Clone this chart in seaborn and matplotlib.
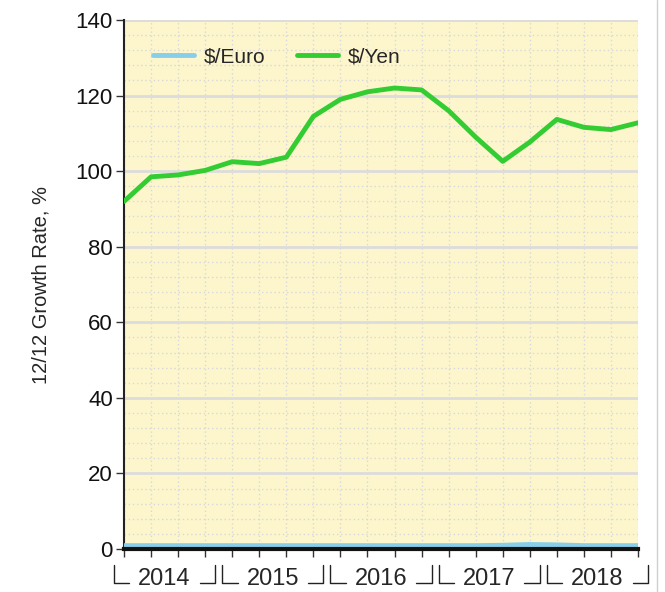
import numpy as np
import pandas as pd
import seaborn as sns
import matplotlib.pyplot as plt
from matplotlib.ticker import MultipleLocator
import matplotlib.transforms as mtransforms

quarters = list(range(20))
years = ["2014", "2015", "2016", "2017", "2018"]
yen = [92, 98.5, 99, 100.2, 102.5, 102, 103.7, 114.5, 119, 121, 122, 121.5,
       116, 109, 102.6, 107.7, 113.7, 111.6, 111, 112.8]
euro = [0.9, 0.9, 0.9, 0.9, 0.9, 0.9, 0.9, 0.9, 0.9, 0.9, 0.9, 0.9,
        0.9, 0.9, 1.0, 1.2, 1.1, 0.9, 0.9, 0.9]

df = pd.DataFrame({
    "q": quarters * 2,
    "val": euro + yen,
    "series": ["$/Euro"] * 20 + ["$/Yen"] * 20,
})

sns.set_style("white")
plt.rcParams['font.family'] = ['Liberation Sans', 'DejaVu Sans']

fig = plt.figure(figsize=(6.65, 5.92), dpi=100)
ax = fig.add_axes([0.1865, 0.0726, 0.9594 - 0.1865, 0.9662 - 0.0726])
ax.set_facecolor("#fdf6cc")

sns.lineplot(data=df, x="q", y="val", hue="series",
             palette={"$/Euro": "#87ceeb", "$/Yen": "#33cc33"},
             linewidth=3.5, ax=ax, zorder=3)

ax.set_xlim(0, 19)
ax.set_ylim(0, 140)
ax.yaxis.set_major_locator(MultipleLocator(20))
ax.yaxis.set_minor_locator(MultipleLocator(4))
ax.set_xticks(quarters)
ax.set_xticklabels([])
ax.tick_params(axis="y", which="major", direction="out", length=6, width=1,
               labelsize=16, color="#333333", labelcolor="#111111", pad=2, left=True)
ax.tick_params(axis="y", which="minor", length=0)
ax.tick_params(axis="x", direction="out", length=6, width=1, color="#333333", bottom=True)

ax.grid(which="major", axis="y", color="#dcdcdc", linewidth=2, linestyle="-")
ax.grid(which="minor", axis="y", color="#d8d8d8", linewidth=1, linestyle=(0, (1, 2)))
ax.grid(which="major", axis="x", color="#d8d8d8", linewidth=1, linestyle=(0, (1, 2)))
ax.set_axisbelow(True)

for s in ["top", "right"]:
    ax.spines[s].set_visible(False)
ax.spines["left"].set_color("#222222")
ax.spines["left"].set_linewidth(1.5)
ax.spines["bottom"].set_color("#111111")
ax.spines["bottom"].set_linewidth(3)
ax.spines["bottom"].set_zorder(5)
ax.axhline(140, color="#dcdcdc", linewidth=2, zorder=1)

ax.set_xlabel("")
ax.set_ylabel("12/12 Growth Rate, %", fontsize=14.5, labelpad=18)

leg = ax.legend(loc="center left", bbox_to_anchor=(0.056, 0.93), ncol=2, frameon=False,
                fontsize=15, handlelength=2, handletextpad=0.45, columnspacing=1.5,
                borderpad=0, borderaxespad=0)

# year brackets under the axis
trans = mtransforms.blended_transform_factory(ax.transData, ax.transAxes)
for i, yr in enumerate(years):
    x0 = i * 4 - 0.5
    x1 = i * 4 + 3.5
    mid = (x0 + x1) / 2
    ax.text(mid, -0.056, yr, transform=trans, ha="center", va="center", fontsize=17)
    ax.plot([x0 + 0.13, x0 + 0.13, x0 + 0.7], [-0.03, -0.064, -0.064], transform=trans,
            color="#222222", linewidth=1, clip_on=False)
    ax.plot([x1 - 0.7, x1 - 0.13, x1 - 0.13], [-0.064, -0.064, -0.03], transform=trans,
            color="#222222", linewidth=1, clip_on=False)

fig.add_artist(plt.Line2D([0.988, 0.988], [0, 1], transform=fig.transFigure,
                          color="#d0d0d0", linewidth=1))

fig.savefig("out.png", dpi=100)
